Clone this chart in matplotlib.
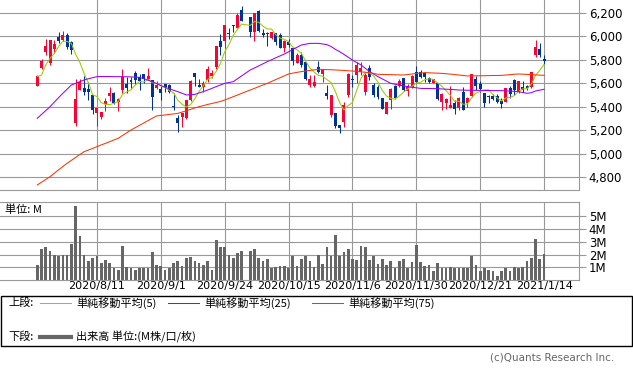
import numpy as np
import pandas as pd
import matplotlib
matplotlib.use('Agg')
import matplotlib.pyplot as plt
from matplotlib.patches import Rectangle
from matplotlib.lines import Line2D
from matplotlib.ticker import FuncFormatter

# daily candles (None = no trading, 2020/10/1)
opens = [5580, 5734, 5865, 5771, 5890, 5993, 5970, 6015, 5955, 5265,
         5543, 5557, 5555, 5501, 5350, 5316, 5424, 5492, 5518, 5444,
         5543, 5594, 5629, 5691, 5651, 5677, 5634, 5629, 5557, 5555,
         5592, 5586, 5404, 5302, 5310, 5302, 5458, 5685, 5586, 5572,
         5629, 5663, 5737, 5961, 5964, 6030, 6092, 6069, 6226, None,
         6169, 6041, 6217, 6027, 6027, 5984, 6027, 6012, 5899, 5955,
         5899, 5771, 5842, 5785, 5586, 5577, 5737, 5680, 5521, 5330,
         5350, 5245, 5273, 5501, 5634, 5671, 5700, 5529, 5728, 5586,
         5566, 5478, 5339, 5458, 5577, 5577, 5643, 5538, 5566, 5700,
         5700, 5691, 5643, 5606, 5606, 5444, 5430, 5387, 5430, 5387,
         5529, 5430, 5492, 5637, 5594, 5521, 5495, 5495, 5492, 5452,
         5444, 5563, 5629, 5535, 5566, 5580, 5572, 5842, 5893, 5805]
highs = [5668, 5805, 5975, 5972, 5970, 6035, 6046, 6027, 5958, 5637,
         5637, 5663, 5614, 5501, 5393, 5356, 5472, 5566, 5526, 5478,
         5722, 5657, 5651, 5705, 5680, 5680, 5734, 5629, 5617, 5580,
         5595, 5594, 5515, 5330, 5350, 5458, 5629, 5685, 5634, 5620,
         5748, 5714, 5921, 6018, 6100, 6069, 6100, 6197, 6260, None,
         6169, 6197, 6226, 6061, 6041, 6041, 6027, 6027, 5970, 5975,
         5899, 5856, 5870, 5785, 5671, 5671, 5791, 5720, 5586, 5501,
         5350, 5245, 5444, 5691, 5671, 5785, 5785, 5691, 5756, 5600,
         5586, 5478, 5438, 5557, 5586, 5640, 5643, 5594, 5671, 5748,
         5714, 5700, 5657, 5637, 5606, 5515, 5472, 5577, 5458, 5486,
         5566, 5486, 5680, 5663, 5620, 5521, 5501, 5506, 5506, 5472,
         5563, 5577, 5634, 5620, 5620, 5590, 5700, 5970, 5941, 5842]
lows = [5578, 5722, 5842, 5757, 5862, 5941, 5964, 5890, 5850, 5236,
        5543, 5501, 5458, 5339, 5236, 5299, 5364, 5447, 5421, 5367,
        5521, 5521, 5557, 5594, 5543, 5600, 5629, 5373, 5555, 5458,
        5529, 5515, 5373, 5182, 5231, 5293, 5449, 5580, 5566, 5529,
        5614, 5643, 5722, 5842, 5900, 5975, 6040, 6069, 6135, None,
        5998, 5964, 6041, 5998, 5919, 5975, 5927, 5904, 5870, 5913,
        5757, 5771, 5742, 5629, 5566, 5566, 5691, 5614, 5464, 5316,
        5216, 5174, 5231, 5486, 5572, 5600, 5671, 5501, 5629, 5486,
        5466, 5381, 5339, 5381, 5466, 5566, 5538, 5495, 5557, 5600,
        5643, 5614, 5606, 5600, 5458, 5373, 5381, 5387, 5339, 5373,
        5373, 5401, 5486, 5543, 5529, 5396, 5435, 5458, 5435, 5393,
        5444, 5472, 5501, 5515, 5529, 5545, 5557, 5822, 5828, 5765]
closes = [5663, 5791, 5919, 5970, 5933, 5958, 6015, 5913, 5884, 5467,
          5614, 5529, 5529, 5373, 5393, 5356, 5452, 5518, 5430, 5467,
          5657, 5563, 5609, 5629, 5623, 5634, 5663, 5486, 5586, 5521,
          5566, 5529, 5396, 5265, 5350, 5458, 5620, 5657, 5572, 5600,
          5722, 5691, 5921, 5913, 6097, 6025, 6086, 6183, 6135, None,
          6041, 6197, 6049, 6015, 6018, 6035, 5956, 5904, 5964, 5927,
          5793, 5842, 5757, 5634, 5634, 5614, 5700, 5720, 5492, 5501,
          5236, 5222, 5415, 5680, 5629, 5757, 5728, 5671, 5657, 5501,
          5486, 5381, 5438, 5552, 5472, 5620, 5543, 5577, 5663, 5614,
          5651, 5651, 5614, 5637, 5464, 5506, 5464, 5415, 5381, 5472,
          5373, 5478, 5680, 5577, 5549, 5435, 5481, 5469, 5444, 5424,
          5557, 5506, 5543, 5620, 5543, 5560, 5700, 5913, 5842, 5793]

# volume, million shares
volume = [1.19, 2.46, 2.57, 2.30, 1.98, 1.85, 1.98, 1.98, 2.86, 5.79,
          3.44, 1.98, 1.51, 1.77, 1.85, 1.32, 1.59, 1.35, 0.98, 0.79,
          2.70, 1.06, 0.93, 0.82, 0.93, 0.95, 0.95, 2.22, 1.19, 1.11,
          0.79, 0.93, 1.35, 1.51, 1.11, 1.75, 1.83, 1.51, 1.35, 1.19,
          1.51, 0.79, 3.17, 2.57, 2.62, 1.98, 1.77, 2.14, 2.25, None,
          2.30, 2.46, 1.77, 1.46, 1.69, 0.98, 1.06, 1.14, 1.14, 0.98,
          1.85, 1.14, 1.69, 1.90, 1.51, 1.06, 1.98, 1.24, 2.59, 1.90,
          3.57, 1.85, 2.20, 2.46, 1.67, 1.59, 2.70, 2.57, 1.59, 1.90,
          1.24, 1.64, 1.19, 1.51, 0.98, 1.51, 1.64, 0.93, 1.40, 2.78,
          1.40, 1.14, 1.19, 0.71, 1.32, 0.93, 0.93, 1.03, 0.93, 0.93,
          0.93, 0.98, 1.90, 1.19, 0.71, 0.98, 0.79, 0.71, 0.34, 0.71,
          0.93, 0.71, 1.03, 0.93, 1.03, 1.46, 1.77, 3.25, 1.67, 2.04]

# moving averages (25 / 75 include days before the window)
ma5_head = [5657, 5671, 5757, 5813]
ma25 = [5302, 5335, 5368, 5401, 5440, 5478, 5515, 5550, 5586, 5600,
        5615, 5629, 5639, 5648, 5657, 5658, 5658, 5658, 5657, 5657,
        5657, 5656, 5655, 5653, 5651, 5640, 5627, 5614, 5598, 5582,
        5566, 5554, 5541, 5529, 5515, 5501, 5503, 5506, 5518, 5530,
        5543, 5557, 5572, 5586, 5600, 5607, 5614, 5639, 5664, 5689,
        5714, 5731, 5749, 5767, 5785, 5801, 5818, 5834, 5850, 5869,
        5889, 5908, 5927, 5934, 5941, 5941, 5941, 5936, 5930, 5914,
        5890, 5870, 5847, 5823, 5799, 5778, 5757, 5729, 5700, 5679,
        5657, 5638, 5619, 5600, 5592, 5584, 5577, 5572, 5566, 5562,
        5557, 5556, 5556, 5555, 5555, 5552, 5550, 5548, 5546, 5543,
        5542, 5541, 5541, 5540, 5540, 5539, 5539, 5538, 5538, 5538,
        5536, 5534, 5532, 5529, 5522, 5515, 5520, 5535, 5542, 5549]
ma75 = [4733, 4757, 4780, 4804, 4833, 4862, 4890, 4918, 4943, 4968,
        4993, 5017, 5031, 5045, 5060, 5074, 5088, 5102, 5117, 5131,
        5155, 5178, 5202, 5222, 5242, 5262, 5282, 5302, 5322, 5326,
        5330, 5335, 5339, 5344, 5355, 5366, 5378, 5390, 5401, 5410,
        5420, 5428, 5437, 5445, 5458, 5472, 5486, 5500, 5515, 5529,
        5543, 5557, 5572, 5586, 5600, 5616, 5632, 5648, 5664, 5680,
        5687, 5694, 5700, 5705, 5710, 5715, 5720, 5718, 5717, 5716,
        5714, 5712, 5710, 5707, 5705, 5702, 5698, 5695, 5691, 5684,
        5677, 5676, 5675, 5674, 5673, 5672, 5671, 5675, 5680, 5684,
        5688, 5691, 5690, 5688, 5687, 5685, 5682, 5679, 5675, 5671,
        5667, 5663, 5664, 5664, 5665, 5665, 5666, 5667, 5667, 5668,
        5671, 5674, 5677, 5680, 5678, 5676, 5674, 5672, 5670, 5668]

tick_pos = [14, 29, 44, 59, 74, 89, 104, 119]
tick_labels = ['2020/8/11', '2020/9/1', '2020/9/24', '2020/10/15',
               '2020/11/6', '2020/11/30', '2020/12/21', '2021/1/14']

df = pd.DataFrame({'o': opens, 'h': highs, 'l': lows, 'c': closes,
                   'v': volume, 'ma25': ma25, 'ma75': ma75}, dtype=float)
traded = df.dropna(subset=['c'])
ma5 = traded['c'].rolling(5).mean()
ma5.iloc[:4] = ma5_head

W, H = 633, 372
JP = ['Noto Sans CJK JP', 'DejaVu Sans']
RED, BLUE = '#ff0033', '#003399'
GRID = '#999999'

fig = plt.figure(figsize=(W / 100, H / 100), dpi=100)
ax = fig.add_axes([0, 1 - 190 / H, 579 / W, 190 / H])
axv = fig.add_axes([0, 1 - 280 / H, 579 / W, 78 / H])

# candles
up = traded[traded['c'] >= traded['o']]
dn = traded[traded['c'] < traded['o']]
for part, col in [(up, RED), (dn, BLUE)]:
    ax.vlines(part.index, part['l'], part['h'], color=col, lw=0.75, zorder=2)
    body = (part['c'] - part['o']).abs().clip(lower=8)
    ax.bar(part.index, body, bottom=part[['o', 'c']].min(axis=1),
           width=0.7, color=col, lw=0, zorder=2)

ax.plot(traded.index, ma5, color='#99cc00', lw=0.75, zorder=3)
ax.plot(df.index, df['ma25'], color='#9900ff', lw=0.75, zorder=3)
ax.plot(df.index, df['ma75'], color='#ff3300', lw=0.75, zorder=3)

axv.bar(traded.index, traded['v'], width=0.63, color='#666666', lw=0, zorder=2)

xlim = (-8.76, 127.2)
for a in (ax, axv):
    a.set_xlim(*xlim)
    a.set_xticks(tick_pos)
    a.set_axisbelow(True)
    a.grid(True, color=GRID, lw=0.8)
    a.yaxis.tick_right()
    a.tick_params(axis='x', length=0)
    a.tick_params(axis='y', length=5, width=0.8, color=GRID, pad=2, labelsize=8.5)
    a.spines['left'].set_visible(False)
    for s in ('top', 'right', 'bottom'):
        a.spines[s].set_color(GRID)
        a.spines[s].set_linewidth(0.8)

ax.set_ylim(4690, 6311)
ax.set_yticks(range(4800, 6201, 200))
ax.yaxis.set_major_formatter(FuncFormatter(lambda v, p: f'{int(v):,}'))
ax.tick_params(axis='x', labelbottom=False)
ax.spines['top'].set_visible(False)

axv.set_ylim(0, 6.14)
axv.set_yticks([1, 2, 3, 4, 5])
axv.set_yticklabels(['1M', '2M', '3M', '4M', '5M'])
axv.set_xticklabels(tick_labels, fontsize=8)
axv.tick_params(axis='x', pad=1)
fig.text(5 / W, 1 - 210 / H, '単位: M', fontsize=8, family=JP, va='center')

# legend box
fig.patches.append(Rectangle((0.5 / W, 1 - 346 / H), 631.5 / W, 50 / H,
                             fill=False, edgecolor='black', lw=1,
                             transform=fig.transFigure))
def leg_line(x0, y, col, lw):
    fig.lines.append(Line2D([x0 / W, (x0 + 31) / W], [1 - y / H] * 2,
                            color=col, lw=lw, transform=fig.transFigure))

fig.text(8 / W, 1 - 303 / H, '上段:', fontsize=8, family=JP, va='center')
leg_line(40, 303, '#99cc00', 0.75)
fig.text(76 / W, 1 - 303 / H, '単純移動平均(5)', fontsize=8, family=JP, va='center')
leg_line(168, 303, '#9900ff', 0.75)
fig.text(204 / W, 1 - 303 / H, '単純移動平均(25)', fontsize=8, family=JP, va='center')
leg_line(312, 303, '#ff3300', 0.75)
fig.text(348 / W, 1 - 303 / H, '単純移動平均(75)', fontsize=8, family=JP, va='center')

fig.text(8 / W, 1 - 337 / H, '下段:', fontsize=8, family=JP, va='center')
leg_line(40, 337, '#666666', 3)
fig.text(76 / W, 1 - 337 / H, '出来高 単位:(M株/口/枚)', fontsize=8, family=JP, va='center')

fig.text(614 / W, 1 - 358 / H, '(c)Quants Research Inc.', fontsize=7.5,
         color='#666666', ha='right', va='center')

fig.savefig('out.png', dpi=100)
